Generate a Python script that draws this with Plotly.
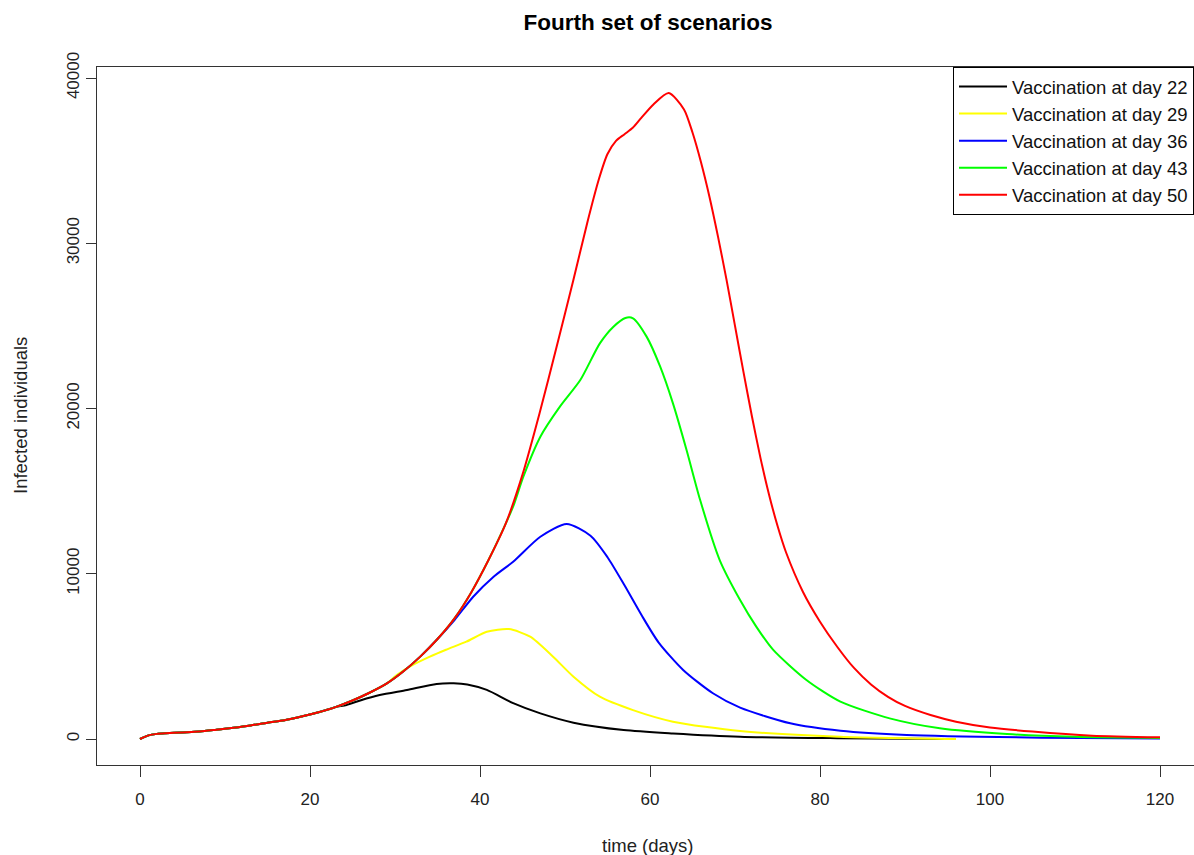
import plotly.graph_objects as go

# Shared early epidemic curve (all scenarios identical here)
common_days = [0, 1, 2, 3, 5, 7, 9, 11, 13, 15, 17, 19, 21, 23]
common_vals = [0, 220, 310, 350, 400, 450, 560, 680, 820, 990, 1140, 1360, 1620, 1930]

# Red (day 50) continuation; other scenarios share its rise until they branch
red_days = [25, 27, 29, 31, 33, 35, 37, 39, 41, 43, 45, 47, 49, 51, 52.6, 54, 55, 56, 57, 58,
            59, 60.4, 62.2, 64, 65, 66, 67, 68, 69, 70, 71, 72, 73, 74, 75, 76, 78, 80, 82,
            84, 86, 88, 90, 93, 96, 100, 105, 112, 120]
red_vals = [2330, 2800, 3350, 4100, 5000, 6050, 7300, 8900, 10830, 13000, 16000, 19700,
            23700, 27800, 31200, 33900, 35400, 36200, 36600, 37000, 37600, 38400, 39090,
            38100, 36700, 34900, 32800, 30400, 27800, 25000, 22200, 19500, 17000, 14800,
            12900, 11300, 8900, 7100, 5600, 4300, 3300, 2550, 2000, 1450, 1050, 700, 450,
            200, 100]

black_days = [24.3, 26, 28.2, 31.4, 34.9, 36.9, 38.5, 40.8, 43.9, 47.1, 51.0, 56.9, 62.7, 70.6, 82, 95]
black_vals = [2060, 2350, 2660, 2970, 3330, 3370, 3300, 2970, 2170, 1550, 990, 545, 340, 140, 50, 0]

yellow_days = [30.2, 32, 34.1, 36, 38.4, 40.8, 43.4, 45.9, 48.6, 51.0, 54.1, 58.0, 62.7, 70.6, 82.4, 96]
yellow_vals = [3870, 4450, 4980, 5400, 5890, 6490, 6650, 6190, 4980, 3770, 2560, 1750, 1050, 480, 140, 0]

blue_days = [37, 39.2, 41.6, 43.9, 47.1, 50.2, 53, 55, 57, 59, 61, 63.9, 67.4, 70.6, 76.5, 82.4, 90.2, 106, 120]
blue_vals = [7200, 8610, 9820, 10730, 12240, 13010, 12300, 11000, 9300, 7500, 5850, 4180, 2770, 1900, 950, 500, 240, 80, 30]

green_days = [44, 45.1, 47.1, 49.4, 51.8, 54.1, 55.7, 57.1, 58.0, 59.6, 61.2, 62.7, 64.3, 65.9,
              68.2, 70.6, 72.5, 74.5, 78.4, 82.4, 88.2, 94.1, 102, 110, 120]
green_vals = [14200, 15870, 18290, 20110, 21720, 23940, 24950, 25480, 25460, 24350, 22530,
              20310, 17490, 14460, 10830, 8410, 6800, 5390, 3570, 2260, 1250, 650, 300, 130, 60]

branch_points = {"black": 23, "yellow": 29, "blue": 35, "green": 43}

labels = ["Vaccination at day 22", "Vaccination at day 29", "Vaccination at day 36",
          "Vaccination at day 43", "Vaccination at day 50"]
colors = ["#000000", "#FFFF00", "#0000FF", "#00FF00", "#FF0000"]

x_ticks = [0, 20, 40, 60, 80, 100, 120]
y_ticks = [0, 10000, 20000, 30000, 40000]


def shared_until(day_limit):
    d = common_days + red_days
    v = common_vals + red_vals
    dd, vv = [], []
    for a, b in zip(d, v):
        if a <= day_limit:
            dd.append(a)
            vv.append(b)
    return dd, vv


series = []
for key, bd, bv in [("black", black_days, black_vals), ("yellow", yellow_days, yellow_vals),
                    ("blue", blue_days, blue_vals), ("green", green_days, green_vals)]:
    d0, v0 = shared_until(branch_points[key])
    series.append((d0 + bd, v0 + bv))
series.append((common_days + red_days, common_vals + red_vals))

fig = go.Figure()
for (x, y), lab, col in zip(series, labels, colors):
    fig.add_trace(go.Scatter(x=x, y=y, mode="lines", name=lab,
                             line=dict(color=col, width=2, shape="spline", smoothing=0.7)))

W, H = 1194, 855
L, R, T, B = 97, 0, 67, 90
font = "Liberation Sans, Arial, sans-serif"

fig.update_layout(
    width=W, height=H,
    margin=dict(l=L, r=R, t=T, b=B),
    paper_bgcolor="white", plot_bgcolor="white",
    font=dict(family=font, size=17, color="#222"),
    title=dict(text="<b>Fourth set of scenarios</b>", x=648 / W, xref="container", xanchor="center",
               y=1 - 22 / H, yref="container", yanchor="middle",
               font=dict(family=font, size=22.5, color="#000")),
    showlegend=True,
    legend=dict(x=1, xanchor="right", y=1, yanchor="top", bgcolor="white",
                bordercolor="#000", borderwidth=1, font=dict(family=font, size=18.5, color="#111"),
                tracegroupgap=0, itemwidth=48),
)

fig.update_xaxes(range=[-43 / 8.5, (W - 140) / 8.5], tickvals=x_ticks,
                 ticktext=[str(v) for v in x_ticks],
                 showgrid=False, zeroline=False, showline=True, linecolor="#333", linewidth=1,
                 mirror=True, ticks="outside", ticklen=11, tickcolor="#333", ticklabelstandoff=8,
                 tickfont=dict(size=17, color="#222"))
fig.update_yaxes(range=[-1573, 40666], tickvals=y_ticks, ticktext=[str(v) for v in y_ticks],
                 showgrid=False, zeroline=False, showline=True, linecolor="#333", linewidth=1,
                 mirror=False, ticks="outside", ticklen=10, tickcolor="#333", tickangle=-90,
                 tickfont=dict(size=17, color="#222"))

pw, ph = W - L - R, H - T - B
fig.add_annotation(text="time (days)", xref="paper", yref="paper", x=(648 - L) / pw,
                   y=-(845 - (H - B)) / ph, xanchor="center", yanchor="middle", showarrow=False,
                   font=dict(family=font, size=18.5, color="#222"))
fig.add_annotation(text="Infected individuals", xref="paper", yref="paper", x=(20 - L) / pw,
                   y=0.5, xanchor="center", yanchor="middle", showarrow=False, textangle=-90,
                   font=dict(family=font, size=18.5, color="#222"))

fig.write_html("out.html")
